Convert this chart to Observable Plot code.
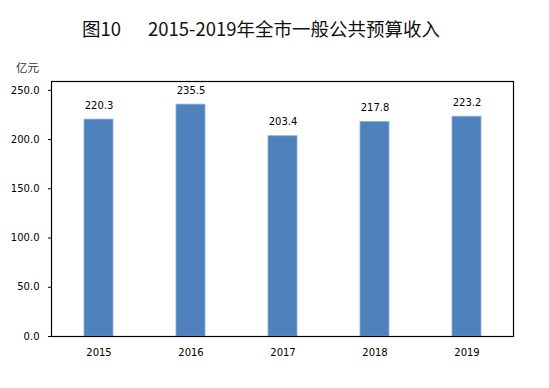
<!DOCTYPE html>
<html>
<head>
<meta charset="utf-8">
<script src="https://cdn.jsdelivr.net/npm/d3@7"></script>
<script src="https://cdn.jsdelivr.net/npm/@observablehq/plot@0.6"></script>
<style>
  body { margin: 0; background: #fff; }
  #wrap { position: relative; width: 549px; height: 388px; overflow: hidden; }
  #title { position: absolute; left: 82px; top: 14px; font-family: "Noto Sans CJK SC", sans-serif; font-size: 18.5px; color: #111; white-space: nowrap; line-height: 28px; font-weight: 400; }
  #unit { position: absolute; left: 16px; top: 59px; font-family: "Noto Sans CJK SC", sans-serif; font-size: 11.5px; color: #333; line-height: 16px; }
  #chart { position: absolute; left: 0; top: 0; }
</style>
</head>
<body>
<div id="wrap">
  <div id="chart"></div>
  <div id="title"><span>图10</span><span style="margin-left:27px">2015-2019年全市一般公共预算收入</span></div>
  <div id="unit">亿元</div>
</div>
<script>
const years = ["2015", "2016", "2017", "2018", "2019"];
const revenue = [220.3, 235.5, 203.4, 217.8, 223.2];
const yTicks = [0, 50, 100, 150, 200, 250];

const data = years.map((y, i) => ({year: y, value: revenue[i]}));
const font = "'DejaVu Sans', sans-serif";

const chart = Plot.plot({
  width: 549,
  height: 388,
  marginTop: 81,
  marginBottom: 52,
  marginLeft: 51,
  marginRight: 36,
  style: {fontFamily: font, fontSize: "10px", color: "#000", background: "transparent"},
  x: {domain: years, paddingInner: 0.687, paddingOuter: 0.3435, label: null, tickSize: 0, tickPadding: 12},
  y: {domain: [0, 259], ticks: yTicks, tickFormat: d => d.toFixed(1), label: null, tickSize: 3, tickPadding: 9},
  marks: [
    Plot.barY(data, {x: "year", y: "value", fill: "#4F81BD", stroke: "#8DAFDB", strokeWidth: 0.8}),
    Plot.text(data, {x: "year", y: "value", text: d => d.value.toFixed(1), dy: -14, fontSize: 10, fill: "#000"}),
    Plot.ruleX([0], {frameAnchor: "right", stroke: "#888", strokeWidth: 2}),
    Plot.frame({stroke: "#000", strokeWidth: 1.2}),
    Plot.axisY({ticks: yTicks, tickFormat: d => d.toFixed(1), tickSize: 3, tickPadding: 9, label: null}),
    Plot.axisX({tickSize: 0, tickPadding: 12, label: null})
  ]
});
document.getElementById("chart").appendChild(chart);
</script>
</body>
</html>
